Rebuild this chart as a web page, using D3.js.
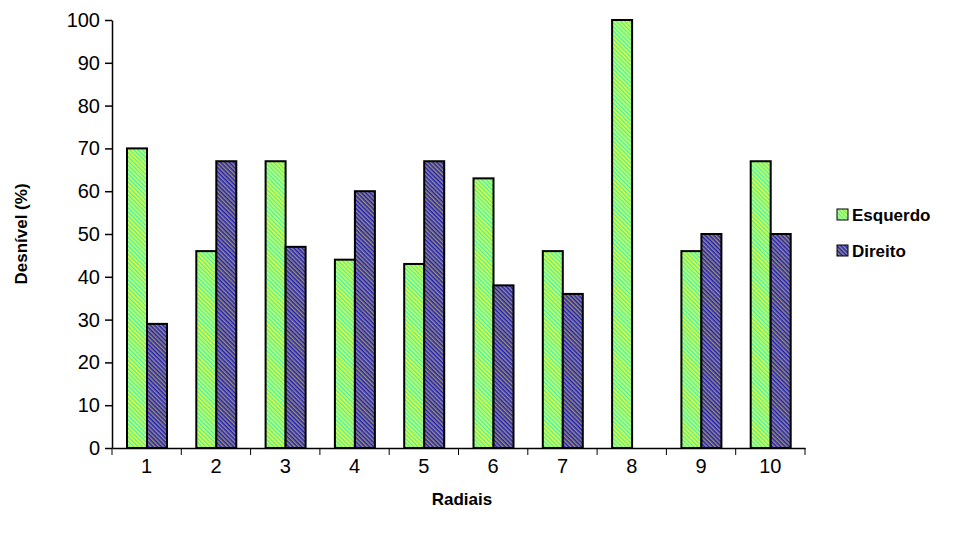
<!DOCTYPE html>
<html><head><meta charset="utf-8">
<script src="https://cdn.jsdelivr.net/npm/d3@7"></script>
<style>body{margin:0;background:#fff}</style></head>
<body><svg id="c" width="964" height="539"></svg>
<script>
const categories=["1","2","3","4","5","6","7","8","9","10"];
const esquerdo=[70,46,67,44,43,63,46,100,46,67];
const direito=[29,67,47,60,67,38,36,0,50,50];
const yTicks=[0,10,20,30,40,50,60,70,80,90,100];
const series=[{name:"Esquerdo",values:esquerdo,pat:"pg"},{name:"Direito",values:direito,pat:"pb"}];

const svg=d3.select("#c");
const defs=svg.append("defs");
function pat(id,c1,c2){
  const p=defs.append("pattern").attr("id",id).attr("patternUnits","userSpaceOnUse").attr("width",3).attr("height",3)
    .attr("patternTransform","rotate(-45)");
  p.append("rect").attr("width",3).attr("height",3).attr("fill",c1);
  p.append("rect").attr("width",1.5).attr("height",3).attr("fill",c2);
}
pat("pg","#f0ff30","#40f0c0");
pat("pb","#1c1cc8","#9a9070");

const x=d3.scaleBand().domain(categories).range([112,805]);
const y=d3.scaleLinear().domain([0,100]).range([448,20]);
const font="Arial, 'Liberation Sans', sans-serif";

series.forEach((s,i)=>{
  svg.append("g").selectAll("rect").data(s.values).join("rect")
    .attr("x",(d,j)=>x(categories[j])+15+i*20).attr("width",20)
    .attr("y",d=>y(d)).attr("height",d=>y(0)-y(d))
    .attr("fill",`url(#${s.pat})`).attr("stroke",d=>d>0?"#000":"none").attr("stroke-width",2);
});

const ya=svg.append("g").attr("transform","translate(112,0)")
  .call(d3.axisLeft(y).tickValues(yTicks).tickSize(7).tickSizeOuter(0));
ya.selectAll("text").attr("font-family",font).attr("font-size",20).attr("fill","#000").attr("dx",-2);
const xa=svg.append("g").attr("transform","translate(0,448)")
  .call(d3.axisBottom(x).tickSize(0).tickSizeOuter(0));
xa.selectAll("text").attr("font-family",font).attr("font-size",20).attr("fill","#000").attr("dy",22);
xa.selectAll(".sep").data(d3.range(categories.length+1)).join("line")
  .attr("x1",i=>112+i*x.step()).attr("x2",i=>112+i*x.step()).attr("y1",0).attr("y2",7).attr("stroke","#000");
svg.selectAll(".domain,.tick line,.sep").attr("stroke","#000").attr("stroke-width",1.5);

svg.append("text").attr("x",462).attr("y",505).attr("text-anchor","middle").attr("font-family",font)
  .attr("font-size",17).attr("font-weight","bold").text("Radiais");
svg.append("text").attr("transform","translate(27,234) rotate(-90)").attr("text-anchor","middle").attr("font-family",font)
  .attr("font-size",17).attr("font-weight","bold").text("Desnível (%)");

series.forEach((s,i)=>{
  const g=svg.append("g").attr("transform",`translate(837,${209+i*36})`);
  g.append("rect").attr("width",11).attr("height",11).attr("fill",`url(#${s.pat})`).attr("stroke","#000");
  g.append("text").attr("x",15).attr("y",12).attr("font-family",font).attr("font-size",17).attr("font-weight","bold").text(s.name);
});
</script></body></html>
